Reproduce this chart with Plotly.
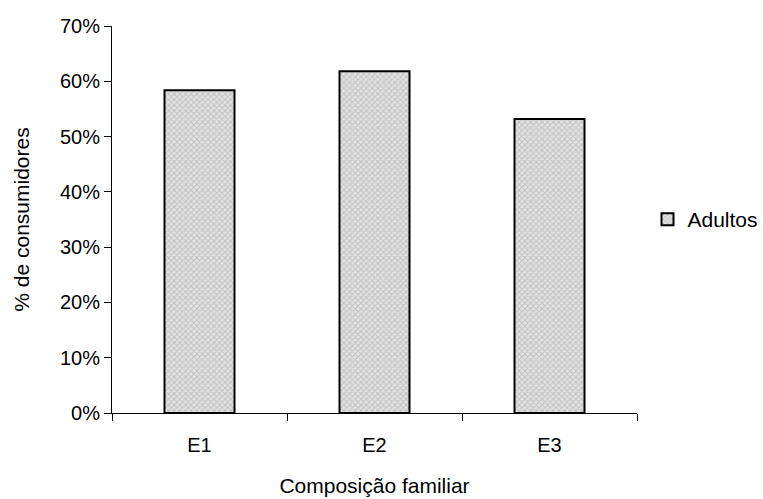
import plotly.graph_objects as go

categories = ["E1", "E2", "E3"]
adultos = [0.584, 0.618, 0.532]
series_name = "Adultos"
y_ticks = [0, 0.1, 0.2, 0.3, 0.4, 0.5, 0.6, 0.7]

fig = go.Figure()
fig.add_trace(go.Bar(
    x=categories, y=adultos, name=series_name, width=0.4,
    marker=dict(color="#d9d9d9", line=dict(color="black", width=2),
                pattern=dict(shape="x", fgcolor="#a0a0a0", bgcolor="#e2e2e2", size=4, solidity=0.45)),
))
FAM = "Liberation Sans, Arial, sans-serif"
font = dict(family=FAM, size=20, color="black")
fig.update_layout(
    width=763, height=499, margin=dict(l=112, r=126, t=26, b=86, autoexpand=False),
    paper_bgcolor="white", plot_bgcolor="white", font=font,
    showlegend=True,
    legend=dict(x=1.02, y=0.5, xanchor="left", yanchor="middle",
                font=dict(family=FAM, size=21, color="black"), itemwidth=30),
)
fig.update_xaxes(title=dict(text="Composição familiar", standoff=23, font=dict(family=FAM, size=21)),
                 showline=True, linecolor="black", linewidth=1, ticks="outside",
                 tickson="boundaries", ticklen=7, tickcolor="black", ticklabelstandoff=14,
                 tickfont=dict(family=FAM, size=20), showgrid=False, range=[-0.5, 2.5])
fig.update_yaxes(title=dict(text="% de consumidores", standoff=24, font=dict(family=FAM, size=21)),
                 showline=True, linecolor="black", linewidth=1, ticks="outside", ticklen=7,
                 tickcolor="black", tickfont=dict(family=FAM, size=20),
                 tickvals=y_ticks, tickformat=".0%", range=[0, 0.7], showgrid=False,
                 zeroline=False)
fig.write_html("out.html")
